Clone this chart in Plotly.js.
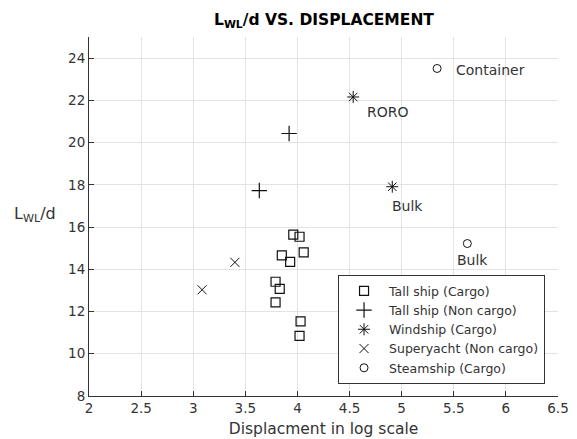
<!DOCTYPE html>
<html><head><meta charset="utf-8">
<script src="https://cdn.plot.ly/plotly-3.0.1.min.js"></script>
<style>html,body{margin:0;padding:0;background:#fff}#plot{width:577px;height:439px}</style>
</head><body><div id="plot"></div>
<script>
// Data
const tallCargoX = [3.96, 4.02, 3.85, 3.93, 4.06, 3.79, 3.83, 3.79, 4.03, 4.02];
const tallCargoY = [15.64, 15.54, 14.66, 14.35, 14.80, 13.41, 13.07, 12.43, 11.53, 10.85];
const tallNonCargoX = [3.92, 3.634];
const tallNonCargoY = [20.43, 17.73];
const windshipX = [4.535, 4.91];
const windshipY = [22.16, 17.91];
const superyachtX = [3.40, 3.085];
const superyachtY = [14.33, 13.03];
const steamshipX = [5.34, 5.63];
const steamshipY = [23.51, 15.22];
const seriesNames = ["Tall ship (Cargo)", "Tall ship (Non cargo)", "Windship (Cargo)", "Superyacht (Non cargo)", "Steamship (Cargo)"];
const labelText = ["Container", "RORO", "Bulk", "Bulk"];
const labelX = [5.50, 4.65, 4.89, 5.515];
const labelY = [23.45, 21.45, 17.02, 14.46];
const xTicks = [2, 2.5, 3, 3.5, 4, 4.5, 5, 5.5, 6, 6.5];
const yTicks = [8, 10, 12, 14, 16, 18, 20, 22, 24];

const dark = '#333333';
function tr(x, y, name, symbol, size, width) {
  return {x: x, y: y, name: name, type: 'scatter', mode: 'markers',
    marker: {symbol: symbol, size: size, color: '#111', line: {color: '#111', width: width}}};
}
const data = [
  tr(tallCargoX, tallCargoY, seriesNames[0], 'square-open', 9, 1.2),
  tr(tallNonCargoX, tallNonCargoY, seriesNames[1], 'cross-thin-open', 11, 1.2),
  tr(windshipX, windshipY, seriesNames[2], 'asterisk-open', 10, 1),
  tr(superyachtX, superyachtY, seriesNames[3], 'x-thin-open', 9, 1),
  tr(steamshipX, steamshipY, seriesNames[4], 'circle-open', 8, 1)
];

const annotations = labelText.map((t, i) => ({
  x: labelX[i], y: labelY[i], xref: 'x', yref: 'y', text: t, showarrow: false,
  xanchor: 'left', yanchor: 'middle', font: {size: 14, color: dark, family: 'DejaVu Sans'}
}));
annotations.push({x: -0.165, y: 0.505, xref: 'paper', yref: 'paper', text: 'L<sub>WL</sub>/d',
  showarrow: false, xanchor: 'left', yanchor: 'middle', font: {size: 16, color: dark, family: 'DejaVu Sans'}});

const layout = {
  width: 577, height: 439,
  margin: {l: 88.7, r: 18.7, t: 37, b: 43},
  paper_bgcolor: '#fff', plot_bgcolor: '#fff',
  font: {family: 'DejaVu Sans', color: dark, size: 12},
  title: {text: '<b>L<sub>WL</sub>/d VS. DISPLACEMENT</b>', x: 0.5615, xanchor: 'center', y: 0.955, yanchor: 'middle',
    font: {size: 15.5, color: '#000', family: 'DejaVu Sans'}},
  xaxis: {range: [2, 6.5], tickvals: xTicks, ticktext: xTicks.map(String), showgrid: true, gridcolor: '#e3e3e3',
    zeroline: false, showline: true, linecolor: dark, linewidth: 1, ticks: 'inside', ticklen: 5, tickcolor: dark,
    tickfont: {size: 13.5, color: dark}, mirror: false,
    title: {text: 'Displacment in log scale', font: {size: 15.5, color: dark}, standoff: 7}},
  yaxis: {range: [8, 25], tickvals: yTicks, showgrid: true, gridcolor: '#e3e3e3',
    zeroline: false, showline: true, linecolor: dark, linewidth: 1, ticks: 'inside', ticklen: 5, tickcolor: dark,
    tickfont: {size: 13.5, color: dark}},
  showlegend: true,
  legend: {x: 0.531, y: 0.033, xanchor: 'left', yanchor: 'bottom', bordercolor: dark, borderwidth: 1,
    bgcolor: '#fff', font: {size: 12.5, color: dark}, tracegroupgap: 0, itemwidth: 40},
  annotations: annotations
};
Plotly.newPlot('plot', data, layout, {displayModeBar: false, staticPlot: true});
</script></body></html>
